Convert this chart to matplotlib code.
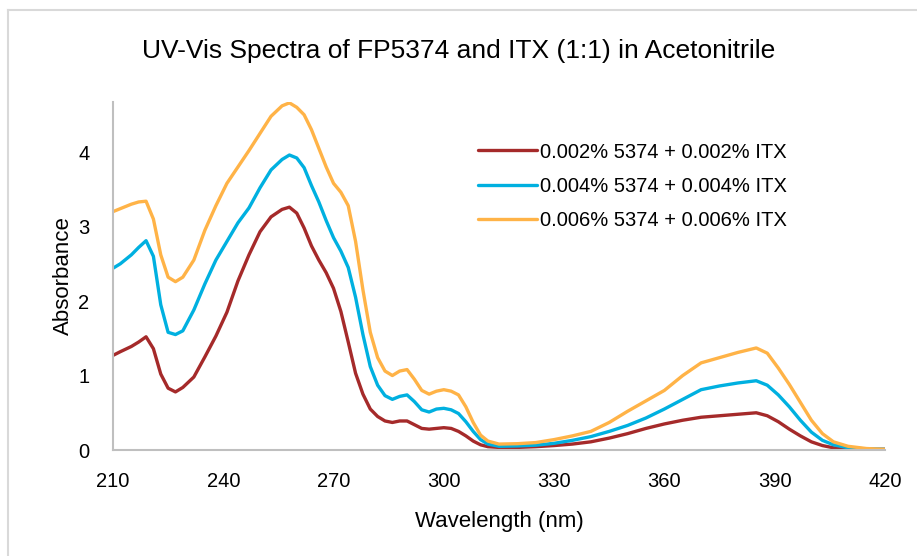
import matplotlib.pyplot as plt
from matplotlib.lines import Line2D

plt.rcParams['font.family'] = ['Liberation Sans', 'DejaVu Sans']

# wavelength grid (nm) and absorbance
wavelength = [210, 212, 215, 217, 219, 221, 223, 225, 227, 229, 232, 235, 238, 241, 244,
              247, 250, 253, 256, 258, 260, 262, 264, 266, 268, 270, 272, 274, 276, 278,
              280, 282, 284, 286, 288, 290, 292, 294, 296, 298, 300, 302, 304, 306, 308,
              310, 312, 315, 320, 325, 330, 335, 340, 345, 350, 355, 360, 365, 370, 375,
              380, 385, 388, 391, 394, 397, 400, 403, 406, 410, 415, 420]

abs_002 = [1.27, 1.32, 1.39, 1.45, 1.52, 1.36, 1.02, 0.83, 0.78, 0.84, 0.98, 1.25, 1.53, 1.85, 2.27,
           2.62, 2.93, 3.13, 3.23, 3.26, 3.18, 2.98, 2.74, 2.55, 2.38, 2.17, 1.86, 1.45, 1.03, 0.75,
           0.55, 0.45, 0.39, 0.37, 0.39, 0.39, 0.34, 0.29, 0.28, 0.29, 0.30, 0.29, 0.25, 0.19, 0.12,
           0.07, 0.045, 0.035, 0.035, 0.045, 0.06, 0.08, 0.11, 0.16, 0.22, 0.29, 0.35, 0.40, 0.44, 0.46,
           0.48, 0.50, 0.46, 0.38, 0.28, 0.19, 0.11, 0.06, 0.03, 0.015, 0.01, 0.01]

abs_004 = [2.44, 2.50, 2.62, 2.72, 2.81, 2.60, 1.95, 1.58, 1.55, 1.60, 1.88, 2.23, 2.55, 2.80, 3.05,
           3.25, 3.52, 3.76, 3.90, 3.96, 3.92, 3.79, 3.55, 3.33, 3.08, 2.85, 2.67, 2.45, 2.05, 1.55,
           1.12, 0.87, 0.73, 0.68, 0.72, 0.74, 0.65, 0.54, 0.51, 0.55, 0.56, 0.54, 0.49, 0.38, 0.25,
           0.14, 0.08, 0.05, 0.055, 0.065, 0.09, 0.13, 0.18, 0.25, 0.33, 0.43, 0.55, 0.68, 0.81, 0.86,
           0.90, 0.93, 0.87, 0.74, 0.58, 0.40, 0.24, 0.13, 0.07, 0.03, 0.015, 0.01]

abs_006 = [3.20, 3.24, 3.30, 3.33, 3.34, 3.10, 2.62, 2.32, 2.26, 2.32, 2.55, 2.95, 3.28, 3.58, 3.80,
           4.02, 4.25, 4.48, 4.62, 4.66, 4.60, 4.50, 4.30, 4.05, 3.80, 3.58, 3.46, 3.28, 2.80, 2.15,
           1.58, 1.24, 1.06, 1.00, 1.06, 1.08, 0.95, 0.80, 0.75, 0.79, 0.81, 0.79, 0.74, 0.58, 0.37,
           0.20, 0.12, 0.08, 0.085, 0.10, 0.14, 0.19, 0.25, 0.37, 0.52, 0.66, 0.80, 1.00, 1.17, 1.24,
           1.31, 1.37, 1.30, 1.10, 0.88, 0.64, 0.40, 0.22, 0.11, 0.05, 0.02, 0.01]

labels = ['0.002% 5374 + 0.002% ITX', '0.004% 5374 + 0.004% ITX', '0.006% 5374 + 0.006% ITX']
colors = ['#A52A2A', '#00B0E0', '#FFB347']

fig = plt.figure(figsize=(9.17, 5.56), dpi=100)
ax = fig.add_axes([0.1232, 0.1906, 0.8418, 0.6264])

for y, lab, c in zip([abs_002, abs_004, abs_006], labels, colors):
    ax.plot(wavelength, y, color=c, linewidth=2.4, label=lab,
            solid_joinstyle='round', solid_capstyle='round')

ax.set_xlim(210, 420)
ax.set_ylim(0, 4.675)
ax.set_xticks(range(210, 421, 30))
ax.set_yticks([0, 1, 2, 3, 4])
ax.tick_params(axis='x', length=0, labelsize=14.5, pad=16)
ax.tick_params(axis='y', length=0, labelsize=14.5, pad=17)
for s in ['top', 'right']:
    ax.spines[s].set_visible(False)
for s in ['left', 'bottom']:
    ax.spines[s].set_color('#BFBFBF')
    ax.spines[s].set_linewidth(1.5)

ax.set_xlabel('Wavelength (nm)', fontsize=16, labelpad=14)
ax.set_ylabel('Absorbance', fontsize=16, labelpad=3)
fig.suptitle('UV-Vis Spectra of FP5374 and ITX (1:1) in Acetonitrile', fontsize=19, y=0.93)

ax.legend(frameon=False, fontsize=14.5, loc='upper left', bbox_to_anchor=(0.45, 0.935),
          handlelength=2.9, handletextpad=0.15, labelspacing=0.75)

# light gray frame round the chart area
fig.add_artist(Line2D([8 / 917, 1], [1 - 10 / 556] * 2, color='#D9D9D9', linewidth=1.5))
fig.add_artist(Line2D([8 / 917] * 2, [0, 1 - 10 / 556], color='#D9D9D9', linewidth=1.5))

fig.savefig('out.png', dpi=100)
